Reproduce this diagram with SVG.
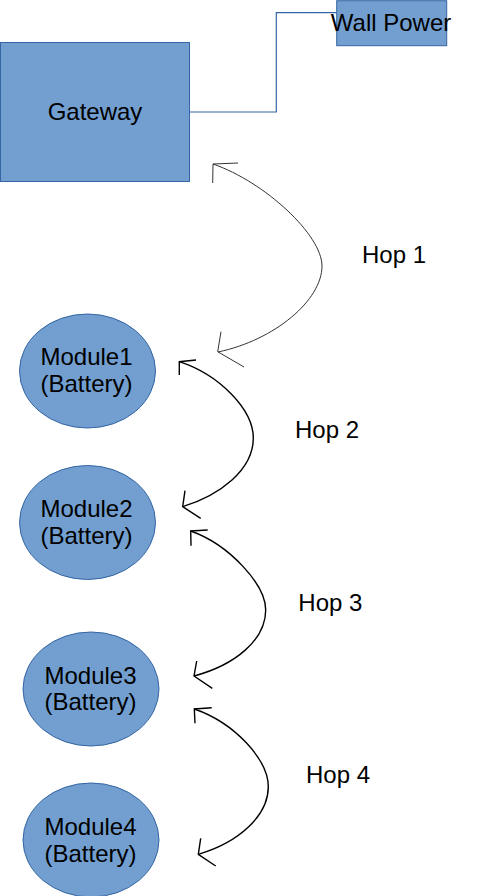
<svg xmlns="http://www.w3.org/2000/svg" width="484" height="896" viewBox="0 0 484 896">
<style>
.box{fill:#729fcf;stroke:#3465a4;stroke-width:1}
.lbl{font-family:"Liberation Sans",Arial,sans-serif;font-size:24px;fill:#000}
.mid{text-anchor:middle}
.wire{fill:none;stroke:#3465a4;stroke-width:1.2}
.hop1{fill:none;stroke:#333;stroke-width:1}
.hop{fill:none;stroke:#000;stroke-width:1.4}
</style>
<rect width="484" height="896" fill="#fff"/>
<g id="connectors">
<polyline class="wire" points="189.5,112 276.3,112 276.3,12.7 336.7,12.7"/>
<path class="hop1" d="M213,164 C265,182 322,235 322,266 C322,300 275,340 218,352"/>
<path class="hop1" d="M238,163 L213,164 L212.7,183"/>
<path class="hop1" d="M221,331.7 L217.7,351.7 L244,367"/>
<path class="hop" d="M179.3,361.7 C220,375 253.3,410 253.3,438 C253.3,470 220,495 182.7,506.7"/>
<path class="hop" d="M196,360 L179.3,361.7 L179.3,375"/>
<path class="hop" d="M185,490.7 L182.7,506.7 L200.7,518.3"/>
<path class="hop" d="M190.7,531 C230,545 265.7,585 265.7,610 C265.7,640 235,665 194,676"/>
<path class="hop" d="M207.7,530 L190.7,531 L191,545.7"/>
<path class="hop" d="M196.7,661 L194,676 L212.3,688.3"/>
<path class="hop" d="M194.3,709 C235,723 268.3,760 268.3,786.7 C268.3,815 240,842 198.3,854.3"/>
<path class="hop" d="M211.7,707.7 L194.3,709 L195,723.3"/>
<path class="hop" d="M200.7,838.3 L198.3,854.3 L215.7,866"/>
</g>
<g id="gateway">
<rect class="box" x="0.5" y="42.5" width="189" height="139"/>
<text class="lbl mid" x="95" y="120">Gateway</text>
</g>
<g id="wallpower">
<rect class="box" x="336.7" y="0.7" width="110" height="45"/>
<text class="lbl mid" x="391" y="30.5">Wall Power</text>
</g>
<g id="module1">
<ellipse class="box" cx="87.5" cy="371" rx="68" ry="57"/>
<text class="lbl mid" x="86.5" y="365">Module1</text>
<text class="lbl mid" x="86.5" y="391.5">(Battery)</text>
</g>
<g id="module2">
<ellipse class="box" cx="87.5" cy="522.5" rx="68" ry="57"/>
<text class="lbl mid" x="86.5" y="517">Module2</text>
<text class="lbl mid" x="86.5" y="543.5">(Battery)</text>
</g>
<g id="module3">
<ellipse class="box" cx="91" cy="689" rx="68" ry="57"/>
<text class="lbl mid" x="90.5" y="683.5">Module3</text>
<text class="lbl mid" x="90.5" y="710">(Battery)</text>
</g>
<g id="module4">
<ellipse class="box" cx="91" cy="840" rx="68" ry="57"/>
<text class="lbl mid" x="90.5" y="835">Module4</text>
<text class="lbl mid" x="90.5" y="861.5">(Battery)</text>
</g>
<g id="labels">
<text class="lbl" x="362" y="263.3">Hop 1</text>
<text class="lbl" x="295" y="437.7">Hop 2</text>
<text class="lbl" x="298.3" y="611">Hop 3</text>
<text class="lbl" x="306" y="782.7">Hop 4</text>
</g>
</svg>
